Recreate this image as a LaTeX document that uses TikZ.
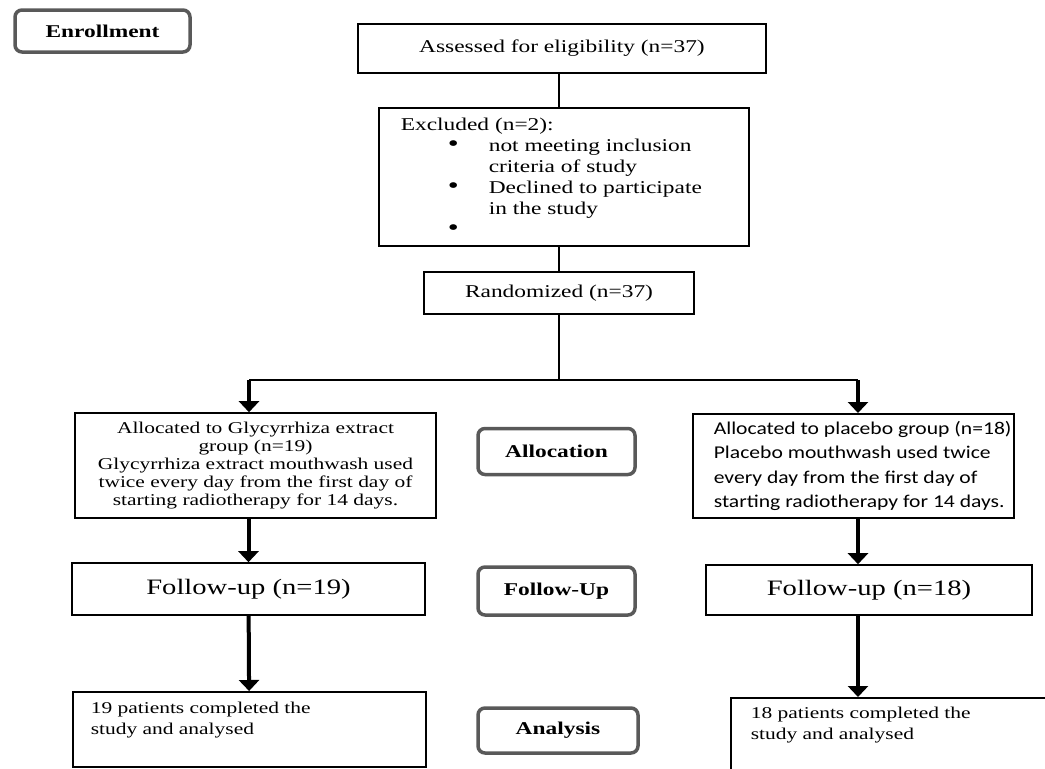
\documentclass[tikz,border=0pt]{standalone}
\usepackage{fontspec}
\setmainfont[FakeStretch=1.3]{Liberation Serif}
\newfontfamily\placebofont[FakeStretch=1.2]{Carlito}
\usepackage{tikz}
\usetikzlibrary{arrows.meta,positioning}

% text inside a box: width, height, vertical position, left padding, text
\newcommand{\padtext}[5]{\parbox[c][#2][#3]{#1}{\leftskip=#4\relax\rightskip=-30pt\relax #5}}
\newcommand{\exbullet}[1]{\hspace*{47pt}\makebox[41pt][l]{{\fontsize{24}{21}\selectfont\textbullet}}#1}
\newcommand{\excont}[1]{\hspace*{88pt}#1}

\begin{document}
\begin{tikzpicture}[x=1pt,y=-1pt,
    box/.style={draw,line width=1.6pt,inner sep=0pt},
    stage/.style={draw=black!65,line width=3.5pt,rounded corners=7pt,
      font=\bfseries\fontsize{18}{20}\selectfont,minimum width=157pt,minimum height=46pt},
    link/.style={line width=1.4pt},
    flow/.style={line width=4pt,-{Triangle[width=20pt,length=11pt]}}]
  \useasboundingbox (0,0) rectangle (1045,769);
  \clip (0,0) rectangle (1045,769);

  % stage labels
  \node[stage,minimum width=175pt,minimum height=42pt] (enroll) at (102.5,31) {Enrollment};
  \node[stage] (alloc) at (556.5,451.5) {Allocation};
  \node[stage,minimum height=48pt] (follow) at (556.5,591) {Follow-Up};
  \node[stage,minimum width=160pt,minimum height=45pt] (analysis) at (558,730.5) {Analysis};

  % enrollment
  \node[box,minimum width=408pt,minimum height=49pt,font=\fontsize{18}{20}\selectfont] (assess) at (562,48.5) {Assessed for eligibility (n=37)};
  \node[box,anchor=north west,font=\fontsize{18}{21}\selectfont] (excl) at (378,107)
    {\padtext{370pt}{138pt}{c}{22pt}{Excluded (n=2):\\
      \exbullet{not meeting inclusion}\\
      \excont{criteria of study}\\
      \exbullet{Declined to participate}\\
      \excont{in the study}\\
      \exbullet{}}};
  \node[box,minimum width=270pt,minimum height=42pt,font=\fontsize{18}{20}\selectfont] (rand) at (559,293) {Randomized (n=37)};

  % two arms
  \node[box,align=center,minimum width=361pt,minimum height=105pt,font=\fontsize{16.5}{18}\selectfont] (allocA) at (255.5,465.5)
    {Allocated to Glycyrrhiza extract\\ group (n=19)\\ Glycyrrhiza extract mouthwash used\\ twice every day from the first day of\\ starting radiotherapy for 14 days.};
  \node[box,anchor=north west,font=\placebofont\fontsize{18}{24.5}\selectfont] (allocB) at (692,413)
    {\padtext{321pt}{104pt}{c}{21pt}{Allocated to placebo group (n=18)\\ Placebo mouthwash used twice\\ every day from the first day of\\ starting radiotherapy for 14 days.}};

  \node[box,minimum width=353pt,minimum height=52pt,font=\fontsize{22}{24}\selectfont] (folA) at (248.5,589) {Follow-up (n=19)};
  \node[box,minimum width=326pt,minimum height=50pt,font=\fontsize{22}{24}\selectfont] (folB) at (869,590) {Follow-up (n=18)};

  \node[box,anchor=north west,font=\fontsize{16.5}{21}\selectfont] (anaA) at (72,691)
    {\padtext{353pt}{75pt}{t}{18pt}{\rule{0pt}{22pt}19 patients completed the\\ study and analysed}};
  \node[box,anchor=north west,font=\fontsize{16.5}{21}\selectfont] (anaB) at (730,697)
    {\padtext{340pt}{100pt}{t}{20pt}{\rule{0pt}{21pt}18 patients completed the\\ study and analysed}};

  % connectors
  \coordinate (split) at (559,380);
  \coordinate (splitA) at (249,380);
  \coordinate (splitB) at (858,380);
  \draw[link] (assess.south -| rand) -- (excl.north -| rand);
  \draw[link] (excl.south -| rand) -- (rand);
  \draw[link] (rand) -- (split);
  \draw[link] (splitA) -- (splitB);
  \draw[flow] (splitA) -- (splitA |- allocA.north);
  \draw[flow] (splitB) -- (splitB |- allocB.north);
  \draw[flow] (allocA.south -| folA) -- (folA);
  \draw[flow] (folA) -- (anaA);
  \draw[flow] (allocB.south -| splitB) -- (splitB |- folB.north);
  \draw[flow] (folB.south -| splitB) -- (splitB |- anaB.north);
\end{tikzpicture}
\end{document}
